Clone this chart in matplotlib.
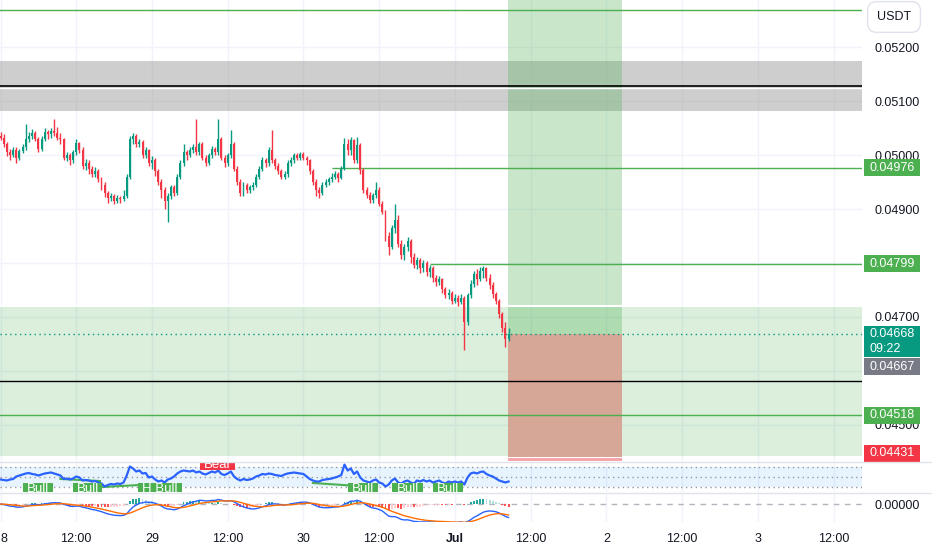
import numpy as np
import pandas as pd
import matplotlib
matplotlib.use("Agg")
import matplotlib.pyplot as plt
from matplotlib.patches import Rectangle
from matplotlib.lines import Line2D

# 30 min candles starting 28 Jun 00:00, prices in 1e-5 USDT
opens = [
    5035, 5032, 5020, 5005, 5000, 5010, 4995, 5008, 5015, 5030,
    5035, 5040, 5030, 5012, 5030, 5042, 5038, 5045, 5040, 5032,
    5030, 4995, 5000, 4990, 5005, 5022, 5010, 4980, 4985, 4975,
    4965, 4970, 4955, 4945, 4930, 4920, 4925, 4915, 4920, 4918,
    4925, 4960, 5030, 5035, 5020, 5025, 5000, 5010, 4985, 4990,
    4970, 4950, 4935, 4915, 4925, 4940, 4930, 4960, 4985, 5005,
    5000, 5010, 5015, 5005, 5020, 4995, 4985, 5000, 5012, 5005,
    5030, 4995, 4985, 5000, 5020, 4975, 4950, 4930, 4945, 4935,
    4940, 4945, 4960, 4975, 4990, 4985, 5010, 4990, 4980, 4970,
    4960, 4965, 4985, 4990, 5000, 4995, 5002, 4995, 4990, 4970,
    4950, 4935, 4930, 4945, 4950, 4955, 4960, 4965, 4958, 4975,
    5020, 5009, 5028, 4991, 5018, 4972, 4935, 4926, 4917, 4926,
    4935, 4910, 4895, 4850, 4830, 4865, 4880, 4835, 4815, 4830,
    4840, 4812, 4796, 4805, 4790, 4800, 4783, 4790, 4772, 4765,
    4770, 4752, 4740, 4745, 4730, 4736, 4728, 4735, 4690, 4740,
    4762, 4780, 4770, 4785, 4790, 4772, 4760, 4742, 4730, 4705,
    4680, 4660,
]
highs = [
    5042, 5038, 5025, 5012, 5015, 5014, 5012, 5020, 5058, 5042,
    5048, 5044, 5034, 5035, 5050, 5046, 5050, 5066, 5052, 5040,
    5032, 5006, 5004, 5010, 5030, 5025, 5014, 4992, 4990, 4980,
    4978, 4974, 4960, 4950, 4934, 4930, 4928, 4926, 4924, 4935,
    4965, 5035, 5040, 5038, 5030, 5028, 5014, 5012, 4998, 4995,
    4975, 4955, 4940, 4930, 4945, 4944, 4965, 4990, 5020, 5010,
    5014, 5020, 5066, 5025, 5024, 5000, 5004, 5016, 5015, 5066,
    5034, 5000, 5004, 5046, 5024, 4980, 4955, 4950, 4948, 4945,
    4950, 4965, 4980, 4996, 4995, 5015, 5046, 4995, 4985, 4974,
    4970, 4990, 4996, 5004, 5004, 5006, 5005, 4998, 4992, 4974,
    4955, 4940, 4950, 4955, 4960, 4966, 4970, 4968, 4980, 5032,
    5030, 5034, 5030, 5033, 5022, 4976, 4940, 4932, 4930, 4950,
    4940, 4915, 4898, 4858, 4870, 4910, 4888, 4842, 4835, 4848,
    4845, 4818, 4812, 4810, 4805, 4803, 4797, 4794, 4778, 4776,
    4773, 4756, 4752, 4748, 4742, 4740, 4742, 4738, 4745, 4768,
    4786, 4788, 4792, 4795, 4793, 4780, 4764, 4746, 4733, 4710,
    4690, 4680,
]
lows = [
    5028, 5015, 4998, 4990, 4996, 4985, 4990, 5004, 5010, 5025,
    5030, 5026, 5005, 5008, 5026, 5030, 5032, 5036, 5028, 5020,
    4990, 4988, 4982, 4986, 5000, 5004, 4974, 4972, 4965, 4960,
    4960, 4950, 4935, 4922, 4912, 4914, 4910, 4912, 4912, 4914,
    4920, 4955, 5020, 5015, 5015, 4995, 4995, 4980, 4975, 4962,
    4945, 4920, 4900, 4875, 4918, 4924, 4926, 4955, 4980, 4990,
    4996, 5004, 5000, 5000, 4990, 4980, 4982, 4995, 5000, 5000,
    4990, 4978, 4980, 4995, 4970, 4945, 4925, 4925, 4930, 4930,
    4935, 4940, 4955, 4970, 4978, 4980, 4985, 4975, 4965, 4955,
    4955, 4960, 4980, 4985, 4990, 4990, 4990, 4982, 4965, 4944,
    4925, 4920, 4926, 4940, 4945, 4950, 4955, 4950, 4955, 4972,
    5000, 5000, 4985, 4985, 4965, 4930, 4920, 4912, 4912, 4920,
    4905, 4890, 4840, 4815, 4825, 4855, 4830, 4808, 4805, 4822,
    4800, 4790, 4788, 4782, 4784, 4776, 4774, 4765, 4758, 4760,
    4745, 4735, 4733, 4724, 4726, 4720, 4724, 4638, 4685, 4735,
    4755, 4760, 4766, 4772, 4766, 4752, 4736, 4724, 4698, 4672,
    4645, 4655,
]
closes = [
    5032, 5020, 5005, 5000, 5010, 4995, 5008, 5015, 5030, 5035,
    5040, 5030, 5012, 5030, 5042, 5038, 5045, 5040, 5032, 5030,
    4995, 5000, 4990, 5005, 5022, 5010, 4980, 4985, 4975, 4965,
    4970, 4955, 4945, 4930, 4920, 4925, 4915, 4920, 4918, 4925,
    4960, 5030, 5035, 5020, 5025, 5000, 5010, 4985, 4990, 4970,
    4950, 4935, 4915, 4925, 4940, 4930, 4960, 4985, 5005, 5000,
    5010, 5015, 5005, 5020, 4995, 4985, 5000, 5012, 5005, 5030,
    4995, 4985, 5000, 5020, 4975, 4950, 4930, 4945, 4935, 4940,
    4945, 4960, 4975, 4990, 4985, 5010, 4990, 4980, 4970, 4960,
    4965, 4985, 4990, 5000, 4995, 5002, 4995, 4990, 4970, 4950,
    4935, 4930, 4945, 4950, 4955, 4960, 4965, 4958, 4975, 5020,
    5009, 5028, 4991, 5018, 4972, 4935, 4926, 4917, 4926, 4935,
    4910, 4895, 4850, 4830, 4865, 4880, 4835, 4815, 4830, 4840,
    4812, 4796, 4805, 4790, 4800, 4783, 4790, 4772, 4765, 4770,
    4752, 4740, 4745, 4730, 4736, 4728, 4735, 4690, 4740, 4762,
    4780, 4770, 4785, 4790, 4772, 4760, 4742, 4730, 4705, 4680,
    4660, 4668,
]
rsi = [
    44, 43, 42, 44, 45, 50, 52, 54, 56, 57,
    55, 54, 52, 54, 56, 57, 58, 56, 54, 52,
    45, 46, 44, 46, 50, 48, 42, 43, 42, 40,
    41, 38, 36, 30, 33, 35, 34, 36, 35, 38,
    52, 70, 66, 60, 62, 56, 57, 48, 50, 44,
    40, 42, 38, 44, 46, 50, 56, 60, 62, 61,
    60, 62, 58, 60, 56, 54, 57, 60, 58, 62,
    55, 53, 56, 60, 50, 45, 42, 45, 43, 44,
    46, 50, 52, 55, 54, 56, 55, 53, 52, 51,
    54, 56, 57, 58, 57, 56, 55, 50, 45, 42,
    40, 40, 43, 44, 45, 46, 48, 50, 53, 74,
    62, 66, 55, 60, 48, 42, 40, 38, 42, 44,
    38, 36, 30, 34, 42, 46, 38, 36, 40, 42,
    38, 36, 42, 40, 43, 40, 42, 38, 40, 42,
    38, 36, 40, 38, 40, 38, 40, 34, 48, 56,
    58, 56, 59, 60, 55, 52, 50, 46, 42, 40,
    38, 40,
]

# time axis (candle index, 48 per day)
tick_pos = [0, 24, 48, 72, 96, 120, 144, 168, 192, 216, 240, 264]
tick_labels = ["8", "12:00", "29", "12:00", "30", "12:00",
               "Jul", "12:00", "2", "12:00", "3", "12:00"]
price_ticks = [0.045, 0.046, 0.047, 0.048, 0.049, 0.050, 0.051, 0.052]
hidden_ticks = [0.046, 0.048]  # covered by the axis labels

# drawn levels
top_line = 0.05269
gray_zone = (0.05081, 0.05174)
gray_mid = 0.05128
green_zone = (0.04442, 0.04718)
res_lines = [(0.04976, 105), (0.04799, 136)]
sup_line = 0.04518
black_line = 0.04582
entry = 0.04668
stop = 0.04431
pos_start, pos_end = 160.8, 197.0

# RSI divergence markers
div_lines = [((19, 45), (31.5, 41)), ((32.5, 29), (44, 33)), ((99, 37), (111, 32))]
sig_text = ["Bull", "Bull", "H Bull", "Bear", "Bull", "Bull", "Bull"]
sig_left = [7.1, 23.0, 43.6, 63.2, 110.1, 124.1, 137.0]
sig_right = [16.6, 32.2, 57.5, 74.3, 119.6, 133.9, 146.5]

GREEN = "#089981"
RED = "#f23645"
LVL = "#4caf50"
TXT = "#131722"
GRID = "#f0f3fa"

plt.rcParams["font.family"] = ["Liberation Sans", "DejaVu Sans"]

o = np.array(opens) / 1e5
h = np.array(highs) / 1e5
l = np.array(lows) / 1e5
c = np.array(closes) / 1e5
idx = np.arange(len(c))

W, H = 932, 550
fig = plt.figure(figsize=(W / 100, H / 100), dpi=100)


def px_axes(x0, y0, x1, y1):
    return fig.add_axes([x0 / W, 1 - y1 / H, (x1 - x0) / W, (y1 - y0) / H])


ax = px_axes(0, 0, 862, 461)
ax_rsi = px_axes(0, 462, 862, 492)
ax_macd = px_axes(0, 493, 862, 522)

for a in (ax, ax_rsi, ax_macd):
    a.set_xlim(-0.16, 273.0)
    for s in a.spines.values():
        s.set_visible(False)
    for t in tick_pos:
        a.axvline(t, color=GRID, lw=1, zorder=0)
    a.set_xticks([])

# main pane
ax.set_ylim(0.0443333, 0.0528704)
for p in price_ticks:
    ax.axhline(p, color=GRID, lw=1, zorder=0)

ax.axhspan(*gray_zone, color="#9e9e9e", alpha=0.5, lw=0, zorder=1)
ax.axhline(gray_mid, color="black", lw=1.2, zorder=2)
ax.axhline(gray_mid - 0.00004, color="white", lw=1, zorder=2)
ax.axhspan(*green_zone, color=LVL, alpha=0.2, lw=0, zorder=1)
ax.axhline(green_zone[1] + 0.00002, color="white", lw=1.5, zorder=1.5)

# long position tool
pw = pos_end - pos_start
ax.add_patch(Rectangle((pos_start, entry), pw, 0.001 + top_line - entry,
                       color=LVL, alpha=0.3, lw=0, zorder=1.2))
ax.add_patch(Rectangle((pos_start, 0.04441), pw, entry - 0.04441,
                       color="#d6a696", lw=0, zorder=1.3))
ax.add_patch(Rectangle((pos_start, stop), pw, 0.00008,
                       color="#f6a5aa", lw=0, zorder=1.3))

ax.axhline(top_line, color=LVL, lw=1, zorder=3)
for lvl, start in res_lines:
    ax.hlines(lvl, start, 273, color=LVL, lw=1, zorder=3)
ax.axhline(sup_line, color=LVL, lw=1, zorder=3)
ax.axhline(black_line, color="black", lw=1, zorder=3)
ax.axhline(entry, color=GREEN, lw=1, ls=(0, (1, 2.5)), zorder=3)

# candles
up = c >= o
col = np.where(up, GREEN, RED)
ax.vlines(idx, l, h, colors=col, lw=1, zorder=4)
body_lo = np.minimum(o, c)
body_h = np.maximum(np.abs(c - o), 0.000015)
ax.bar(idx, body_h, bottom=body_lo, width=0.62, color=col, lw=0, zorder=5)

ax.yaxis.tick_right()
ax.set_yticks(price_ticks,
              ["" if p in hidden_ticks else f"{p:.5f}" for p in price_ticks])
ax.tick_params(axis="y", length=0, pad=9, labelsize=9, labelcolor=TXT)

# price labels on the axis
ytr = ax.get_yaxis_transform()
px_h = (0.0528704 - 0.0443333) / 461


def axis_label(center, lines, color, height=17):
    hh = height * px_h
    ax.add_patch(Rectangle((864 / 862, center - hh / 2), 56 / 862, hh,
                           transform=ytr, color=color, lw=0,
                           clip_on=False, zorder=10))
    n = len(lines)
    for k, s in enumerate(lines):
        yy = center + hh / 2 - (k + 0.5) * hh / n
        ax.text(869 / 862, yy, s, transform=ytr, color="white", fontsize=9,
                va="center", ha="left", clip_on=False, zorder=11)


axis_label(0.04976, ["0.04976"], LVL)
axis_label(0.04799, ["0.04799"], LVL)
axis_label(0.046546, ["0.04668", "09:22"], GREEN, height=31)
axis_label(0.046083, ["0.04667"], "#787b86")
axis_label(0.04518, ["0.04518"], LVL)
axis_label(0.044481, ["0.04431"], RED)

fig.text(894 / W, 1 - 17 / H, "USDT", fontsize=9, color=TXT,
         ha="center", va="center",
         bbox=dict(boxstyle="round,pad=0.75", fc="white", ec="#e0e3eb", lw=1))

# RSI pane
ax_rsi.set_ylim(19, 79)
ax_rsi.set_yticks([])
ax_rsi.axhspan(30, 70, color="#2196f3", alpha=0.1, lw=0, zorder=0.5)
for lv in (70, 50, 30):
    ax_rsi.axhline(lv, color="#9598a1", lw=1, ls=(0, (1, 2.5)), zorder=1)
for (x0, y0), (x1, y1) in div_lines:
    ax_rsi.plot([x0, x1], [y0, y1], color=LVL, lw=1.5, zorder=2)
ax_rsi.plot(idx, rsi, color="#2962ff", lw=1.6, zorder=3)
for s, x0, x1 in zip(sig_text, sig_left, sig_right):
    if s == "Bear":
        y0, y1, ty, fc = 63, 93, 72.5, RED
    else:
        y0, y1, ty, fc = 10, 37, 25.5, LVL
    ax_rsi.add_patch(Rectangle((x0, y0), x1 - x0, y1 - y0, color=fc,
                               lw=0, zorder=4))
    ax_rsi.text((x0 + x1) / 2, ty, s, color="white", fontsize=9.5,
                ha="center", va="center", clip_on=True, zorder=5)

# MACD pane
cs = pd.Series(c)
macd = cs.ewm(span=12, adjust=False).mean() - cs.ewm(span=26, adjust=False).mean()
signal = macd.ewm(span=9, adjust=False).mean()
hist = (macd - signal).to_numpy()
prev = np.r_[0, hist[:-1]]
hcol = np.where(hist >= 0,
                np.where(hist > prev, "#26a69a", "#b2dfdb"),
                np.where(hist < prev, "#ff5252", "#ffcdd2"))
ax_macd.set_ylim(-0.00042, 0.00026)
ax_macd.axhline(0, color="#b2b5be", lw=1, ls=(0, (4, 4)), zorder=1)
ax_macd.bar(idx, hist, width=0.6, color=hcol, lw=0, zorder=2)
ax_macd.plot(idx, macd, color="#2962ff", lw=1, zorder=3)
ax_macd.plot(idx, signal, color="#ff6d00", lw=1, zorder=3)
ax_macd.yaxis.tick_right()
ax_macd.set_yticks([0], ["0.00000"])
ax_macd.tick_params(axis="y", length=0, pad=9, labelsize=9, labelcolor=TXT)
ax_macd.set_xticks(tick_pos, tick_labels)
ax_macd.tick_params(axis="x", length=0, pad=8, labelsize=9, labelcolor=TXT)
for lab in ax_macd.get_xticklabels():
    if lab.get_text() == "Jul":
        lab.set_fontweight("bold")
    if lab.get_text() == "8":
        lab.set_horizontalalignment("left")

for yy in (461.5, 492.5):
    fig.add_artist(Line2D([0, 1], [1 - yy / H] * 2, color="#e0e3eb", lw=1))

fig.savefig("out.png", dpi=100, facecolor="white")
